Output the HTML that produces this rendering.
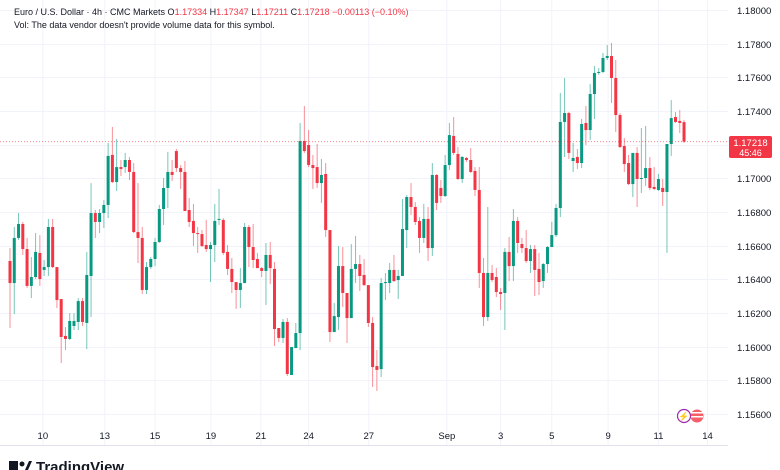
<!DOCTYPE html>
<html><head><meta charset="utf-8"><style>
html,body{margin:0;padding:0;background:#fff;}
svg{display:block;font-family:"Liberation Sans",sans-serif;}
</style></head><body>
<svg id="chart" width="780" height="470" viewBox="0 0 780 470">
<g id="grid"></g>
<g id="candles"></g>
<line x1="0" x2="728" y1="141.6" y2="141.6" stroke="#f23645" stroke-width="1" stroke-dasharray="1,2" opacity="0.6"/>
<g id="yaxis"></g>
<g id="xaxis"></g>
<line x1="0" x2="728" y1="445.5" y2="445.5" stroke="#e0e3eb"/>
<g>
<rect x="729" y="136" width="43" height="22" rx="2" fill="#f23645"/>
<text x="750.5" y="146" font-size="9.5" fill="#fff" text-anchor="middle">1.17218</text>
<text x="750.5" y="156" font-size="9" fill="#fff" text-anchor="middle">45:46</text>
</g>
<g>
<text x="14" y="15" font-size="9" fill="#131722">Euro / U.S. Dollar · 4h · CMC Markets <tspan fill="#131722">O</tspan><tspan fill="#f23645">1.17334</tspan> <tspan>H</tspan><tspan fill="#f23645">1.17347</tspan> <tspan>L</tspan><tspan fill="#f23645">1.17211</tspan> <tspan>C</tspan><tspan fill="#f23645">1.17218 −0.00113 (−0.10%)</tspan></text>
<text x="14" y="28" font-size="9" fill="#131722">Vol: The data vendor doesn't provide volume data for this symbol.</text>
</g>
<g>
<circle cx="684" cy="416" r="6.5" fill="#fff" stroke="#9c27b0" stroke-width="1.2"/>
<text x="684" y="419.5" font-size="9" fill="#9c27b0" text-anchor="middle">⚡</text>
<circle cx="697" cy="416" r="6.5" fill="#f23645" opacity="0.8"/>
<rect x="691" y="412" width="12" height="1.5" fill="#fff"/><rect x="691" y="416" width="12" height="1.5" fill="#fff"/>
</g>
<g>
<rect x="9" y="461" width="9" height="9" fill="#131722"/><circle cx="22" cy="464" r="2.5" fill="#131722"/><path d="M25 470 L29 461 L32 461 L28 470Z" fill="#131722"/>
<text x="36" y="472" font-size="15" font-weight="bold" fill="#131722">TradingView</text>
</g>
</svg>
<script>
const opens=[1.16509,1.16378,1.16646,1.16729,1.16580,1.16361,1.16414,1.16557,1.16456,1.16473,1.16711,1.16473,1.16283,1.16064,1.16046,1.16123,1.16147,1.16271,1.16141,1.16420,1.16794,1.16741,1.16794,1.16842,1.17139,1.16978,1.17067,1.17067,1.17109,1.17038,1.16681,1.16646,1.16337,1.16473,1.16521,1.16622,1.16818,1.16943,1.17038,1.17162,1.17061,1.17038,1.16812,1.16747,1.16675,1.16669,1.16604,1.16580,1.16604,1.16753,1.16753,1.16563,1.16462,1.16384,1.16337,1.16378,1.16711,1.16592,1.16521,1.16467,1.16450,1.16545,1.16462,1.16111,1.16052,1.16147,1.15832,1.15992,1.16081,1.17222,1.17198,1.17079,1.17067,1.16972,1.17026,1.16693,1.16087,1.16176,1.16479,1.16319,1.16170,1.16462,1.16491,1.16426,1.16366,1.16141,1.15885,1.15867,1.16378,1.16378,1.16456,1.16396,1.16420,1.16693,1.16889,1.16830,1.16747,1.16646,1.16759,1.16586,1.17020,1.16943,1.16895,1.17079,1.17252,1.17145,1.16996,1.17121,1.17109,1.17044,1.16931,1.16438,1.16176,1.16438,1.16414,1.16325,1.16319,1.16563,1.16479,1.16747,1.16610,1.16586,1.16509,1.16580,1.16462,1.16390,1.16491,1.16592,1.16663,1.16824,1.17335,1.17388,1.17103,1.17127,1.17091,1.17329,1.17287,1.17501,1.17626,1.17632,1.17715,1.17727,1.17596,1.17376,1.17192,1.17091,1.16966,1.17151,1.16996,1.17002,1.17061,1.16949,1.16931,1.16943,1.16919,1.17204,1.17364,1.17341,1.17334];
const closes=[1.16378,1.16646,1.16729,1.16580,1.16361,1.16414,1.16563,1.16402,1.16473,1.16711,1.16473,1.16277,1.16058,1.16046,1.16153,1.16153,1.16271,1.16147,1.16426,1.16794,1.16741,1.16794,1.16842,1.17133,1.16978,1.17067,1.17056,1.17109,1.17038,1.16681,1.16646,1.16337,1.16473,1.16521,1.16622,1.16818,1.16943,1.17038,1.17020,1.17061,1.17038,1.16806,1.16741,1.16675,1.16669,1.16598,1.16580,1.16604,1.16747,1.16759,1.16557,1.16462,1.16384,1.16337,1.16378,1.16711,1.16592,1.16515,1.16467,1.16450,1.16545,1.16467,1.16105,1.16052,1.16147,1.15838,1.15998,1.16081,1.17222,1.17162,1.17079,1.17061,1.16972,1.17020,1.16693,1.16087,1.16182,1.16479,1.16319,1.16170,1.16462,1.16491,1.16420,1.16366,1.16141,1.15879,1.15862,1.16378,1.16384,1.16456,1.16390,1.16420,1.16699,1.16889,1.16830,1.16741,1.16646,1.16759,1.16586,1.17020,1.16854,1.16895,1.17079,1.17257,1.17151,1.16996,1.17127,1.17109,1.17038,1.16931,1.16438,1.16176,1.16438,1.16396,1.16325,1.16313,1.16563,1.16479,1.16747,1.16616,1.16586,1.16509,1.16580,1.16456,1.16384,1.16491,1.16592,1.16663,1.16824,1.17335,1.17388,1.17151,1.17121,1.17091,1.17323,1.17287,1.17501,1.17626,1.17632,1.17715,1.17727,1.17596,1.17376,1.17186,1.17085,1.16966,1.17151,1.16996,1.17002,1.17061,1.16943,1.16937,1.16996,1.16919,1.17204,1.17358,1.17335,1.17329,1.17218];
const highs=[1.16586,1.16711,1.16794,1.16741,1.16646,1.16533,1.16675,1.16663,1.16515,1.16759,1.16759,1.16473,1.16283,1.16117,1.16200,1.16200,1.16289,1.16289,1.16563,1.16972,1.16812,1.16818,1.16871,1.17210,1.17305,1.17234,1.17109,1.17151,1.17127,1.17091,1.16972,1.16711,1.16503,1.16533,1.16646,1.16842,1.17002,1.17157,1.17109,1.17174,1.17079,1.17103,1.16883,1.16848,1.16711,1.16693,1.16753,1.16622,1.16848,1.16937,1.16764,1.16604,1.16527,1.16384,1.16467,1.16735,1.16723,1.16729,1.16557,1.16473,1.16616,1.16622,1.16503,1.16111,1.16165,1.16170,1.15998,1.16141,1.17329,1.17430,1.17287,1.17139,1.17204,1.17115,1.17091,1.16693,1.16260,1.16598,1.16592,1.16319,1.16610,1.16658,1.16545,1.16521,1.16366,1.16176,1.15980,1.16408,1.16438,1.16497,1.16545,1.16456,1.16877,1.16901,1.16972,1.16859,1.16770,1.16848,1.16830,1.17091,1.17026,1.16990,1.17139,1.17329,1.17364,1.17186,1.17133,1.17127,1.17180,1.17067,1.17067,1.16527,1.16830,1.16485,1.16467,1.16349,1.16586,1.16652,1.16818,1.16770,1.16646,1.16693,1.16604,1.16604,1.16557,1.16497,1.16598,1.16741,1.16848,1.17507,1.17596,1.17394,1.17210,1.17174,1.17353,1.17430,1.17560,1.17667,1.17655,1.17745,1.17792,1.17804,1.17703,1.17388,1.17240,1.17139,1.17151,1.17186,1.17299,1.17311,1.17127,1.17067,1.17026,1.16996,1.17204,1.17465,1.17394,1.17406,1.17347];
const lows=[1.16111,1.16194,1.16634,1.16545,1.16349,1.16289,1.16402,1.16361,1.16420,1.16420,1.16467,1.16230,1.15903,1.15980,1.16040,1.16099,1.16099,1.16123,1.15986,1.16176,1.16646,1.16675,1.16705,1.16764,1.16972,1.16925,1.17014,1.17032,1.16990,1.16675,1.16497,1.16313,1.16313,1.16462,1.16479,1.16616,1.16723,1.16824,1.16984,1.17038,1.16937,1.16806,1.16711,1.16598,1.16557,1.16592,1.16563,1.16384,1.16503,1.16723,1.16545,1.16426,1.16319,1.16224,1.16230,1.16378,1.16473,1.16467,1.16467,1.16414,1.16248,1.16372,1.16004,1.16028,1.16022,1.15826,1.15832,1.15992,1.15980,1.17151,1.17067,1.16937,1.16943,1.16854,1.16652,1.16028,1.16087,1.16099,1.16236,1.16022,1.16170,1.16378,1.16331,1.16361,1.16117,1.15761,1.15737,1.15820,1.16277,1.16319,1.16384,1.16283,1.16420,1.16586,1.16782,1.16723,1.16557,1.16616,1.16509,1.16539,1.16812,1.16854,1.16889,1.17050,1.17139,1.16990,1.16972,1.17097,1.17032,1.16895,1.16349,1.16123,1.16153,1.16384,1.16295,1.16218,1.16099,1.16390,1.16390,1.16557,1.16557,1.16497,1.16438,1.16301,1.16307,1.16349,1.16438,1.16592,1.16652,1.16770,1.17127,1.17115,1.17038,1.17056,1.17061,1.17198,1.17228,1.17353,1.17614,1.17626,1.17703,1.17448,1.17275,1.17180,1.17038,1.16960,1.16889,1.16830,1.16913,1.16955,1.16931,1.16931,1.16925,1.16836,1.16557,1.17133,1.17329,1.17269,1.17211];
const yTicks=[1.156,1.158,1.16,1.162,1.164,1.166,1.168,1.17,1.172,1.174,1.176,1.178,1.18];
const xLabels=["10","13","15","19","21","24","27","Sep","3","5","9","11","14"];
const xLabelCandle=[7.7,22.2,34,47.1,58.8,70,84.1,102.4,115,127,140.2,152,163.5];

const NS="http://www.w3.org/2000/svg";
function yScale(p){return 10+(1.18-p)/0.002*33.67;}
function xScale(i){return 10+i*4.266;}
function mk(tag,attrs,parent){const e=document.createElementNS(NS,tag);for(const k in attrs)e.setAttribute(k,attrs[k]);parent.appendChild(e);return e;}
const grid=document.getElementById('grid'),cg=document.getElementById('candles'),ya=document.getElementById('yaxis'),xa=document.getElementById('xaxis');
yTicks.forEach(function(t){
  const y=Math.round(yScale(t))+0.5;
  const g=mk('line',{x1:0,x2:728,y1:y,y2:y,stroke:'#f0f3fa'},grid);
  
  
  const tx=mk('text',{x:737,y:y+3.5,'font-size':9.5,fill:'#131722'},ya);
  tx.textContent=t.toFixed(5);
  
  
});
xLabels.forEach(function(l,i){
  const x=xScale(xLabelCandle[i]);
  const g=mk('line',{x1:x,x2:x,y1:0,y2:445,stroke:'#f0f3fa'},grid);
  
  
  const tx=mk('text',{x:x,y:439,'font-size':9.5,fill:'#131722','text-anchor':'middle'},xa);
  tx.textContent=l;
  
  
});
for(let i=0;i<opens.length;i++){
  const o=opens[i],c=closes[i],h=highs[i],l=lows[i];
  const up=c>=o, col=up?'#089981':'#f23645';
  const x=xScale(i);
  const w=mk('line',{x1:x,x2:x,y1:yScale(h),y2:yScale(l),stroke:col,'stroke-width':1,opacity:0.55},cg);
  
  
  const top=yScale(Math.max(o,c)),bot=yScale(Math.min(o,c));
  const b=mk('rect',{x:x-1.5,y:top,width:3,height:Math.max(1,bot-top),fill:col},cg);
  
  
}
</script>
</body></html>
